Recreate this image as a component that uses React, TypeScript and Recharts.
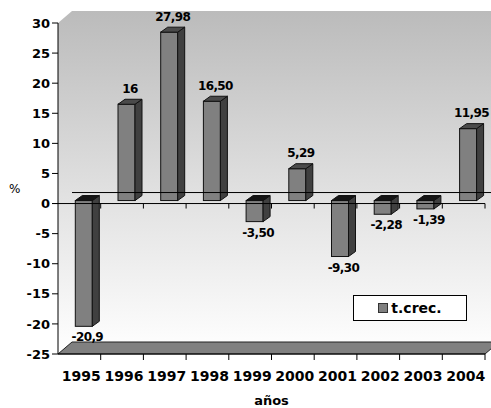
import React from "react";
import {
  BarChart,
  Bar,
  XAxis,
  YAxis,
  ReferenceArea,
  ReferenceLine,
  Legend,
} from "recharts";

const years = ["1995", "1996", "1997", "1998", "1999", "2000", "2001", "2002", "2003", "2004"];
const growth = [-20.9, 16, 27.98, 16.5, -3.5, 5.29, -9.3, -2.28, -1.39, 11.95];
const growthLabels = ["-20,9", "16", "27,98", "16,50", "-3,50", "5,29", "-9,30", "-2,28", "-1,39", "11,95"];
const yTicks = [-25, -20, -15, -10, -5, 0, 5, 10, 15, 20, 25, 30];

const data = years.map((year, i) => ({ year, value: growth[i], label: growthLabels[i] }));

const FONT = "'DejaVu Sans', Verdana, sans-serif";
// depth of the back wall and of each bar
const DX = 14;
const DY = -12;
const BDX = 7;
const BDY = -5;
// bars sit a bit behind the axis plane
const SX = 4.3;
const SY = -3;

function Wall(props: any) {
  const { x, y, width, height } = props;
  const bottom = y + height;
  const right = x + width;
  const step = width / years.length;
  return (
    <g>
      <polygon
        points={`${x},${y} ${x + DX},${y + DY} ${right + DX},${y + DY} ${right + DX},${bottom + DY} ${x},${bottom}`}
        fill="url(#wallFill)"
      />
      <polygon
        points={`${x},${bottom} ${x + DX},${bottom + DY} ${right + DX},${bottom + DY} ${right},${bottom}`}
        fill="#808080"
        stroke="#222"
        strokeWidth={1}
      />
      {years.map((_, i) => (
        <line key={i} x1={x + (i + 1) * step} x2={x + (i + 1) * step} y1={bottom} y2={bottom + 6} stroke="#000" />
      ))}
    </g>
  );
}

function ZeroLine(props: any) {
  const { x1, x2, y1 } = props;
  const step = (x2 - x1) / years.length;
  return (
    <g>
      <line x1={x1 + DX} x2={x2 + DX} y1={y1 + DY + 1} y2={y1 + DY + 1} stroke="#000" />
      <line x1={x1 - 6} x2={x2} y1={y1} y2={y1} stroke="#000" />
      {years.map((_, i) => (
        <line key={i} x1={x1 + (i + 1) * step} x2={x1 + (i + 1) * step} y1={y1} y2={y1 + 5} stroke="#000" />
      ))}
    </g>
  );
}

function Box3D(props: any) {
  const { x, y, width, height, payload } = props;
  const top = Math.min(y, y + height) + SY;
  const h = Math.abs(height);
  const fx = x + SX;
  const neg = payload.value < 0;
  const r = fx + width;
  return (
    <g>
      <rect x={fx} y={top} width={width} height={h} fill="#808080" stroke="#111" />
      <polygon
        points={`${r},${top} ${r + BDX},${top + BDY} ${r + BDX},${top + h + BDY} ${r},${top + h}`}
        fill="#404040"
        stroke="#111"
      />
      <polygon
        points={`${fx},${top} ${fx + BDX},${top + BDY} ${r + BDX},${top + BDY} ${r},${top}`}
        fill={neg ? "#151515" : "#4a4a4a"}
        stroke="#111"
      />
      <text
        x={fx + (width + BDX) / 2}
        y={neg ? top + h + 15 : top - 11.5}
        textAnchor="middle"
        fontFamily={FONT}
        fontWeight="bold"
        fontSize={12}
        letterSpacing={-0.6}
        fill="#000"
      >
        {payload.label}
      </text>
    </g>
  );
}

function LegendBox() {
  return (
    <div
      style={{
        width: 112,
        height: 24,
        border: "1px solid #000",
        background: "#fff",
        display: "flex",
        alignItems: "center",
        justifyContent: "center",
        fontFamily: FONT,
        fontWeight: "bold",
        fontSize: 14,
      }}
    >
      <span
        style={{
          display: "inline-block",
          width: 8,
          height: 8,
          background: "#808080",
          border: "1px solid #333",
          marginRight: 3,
        }}
      />
      t.crec.
    </div>
  );
}

export default function App() {
  return (
    <div style={{ position: "absolute", left: 0, top: 0, background: "#fff" }}>
      <BarChart
        width={491}
        height={408}
        data={data}
        margin={{ top: 23, right: 6, left: 0, bottom: 2 }}
        barSize={17}
      >
        <defs>
          <linearGradient id="wallFill" x1="0" y1="0" x2="0" y2="1">
            <stop offset="0" stopColor="#bbbbbb" />
            <stop offset="0.55" stopColor="#e2e2e2" />
            <stop offset="1" stopColor="#ffffff" />
          </linearGradient>
        </defs>
        <ReferenceArea y1={-25} y2={30} shape={Wall} ifOverflow="visible" />
        <XAxis
          dataKey="year"
          height={52}
          tickLine={false}
          axisLine={{ stroke: "#000" }}
          tickMargin={11}
          tick={{ fontFamily: FONT, fontWeight: "bold", fontSize: 14, fill: "#000", dx: 2 }}
          label={{
            value: "años",
            position: "insideBottom",
            offset: 1,
            style: { fontFamily: FONT, fontWeight: "bold", fontSize: 13, fill: "#000" },
          }}
        />
        <YAxis
          width={58}
          domain={[-25, 30]}
          ticks={yTicks}
          interval={0}
          tickSize={6}
          tickMargin={2}
          axisLine={{ stroke: "#000" }}
          tickLine={{ stroke: "#000" }}
          tick={{ fontFamily: FONT, fontWeight: "bold", fontSize: 13, fill: "#000" }}
          label={{
            value: "%",
            position: "insideLeft",
            offset: 9,
            style: { fontFamily: FONT, fontSize: 12, fill: "#000" },
          }}
        />
        <ReferenceLine y={0} shape={ZeroLine} ifOverflow="visible" />
        <Bar dataKey="value" name="t.crec." shape={Box3D} isAnimationActive={false} />
        <Legend
          layout="vertical"
          align="center"
          verticalAlign="middle"
          wrapperStyle={{ left: 353, top: 295, width: "auto" }}
          content={() => <LegendBox />}
        />
      </BarChart>
    </div>
  );
}
